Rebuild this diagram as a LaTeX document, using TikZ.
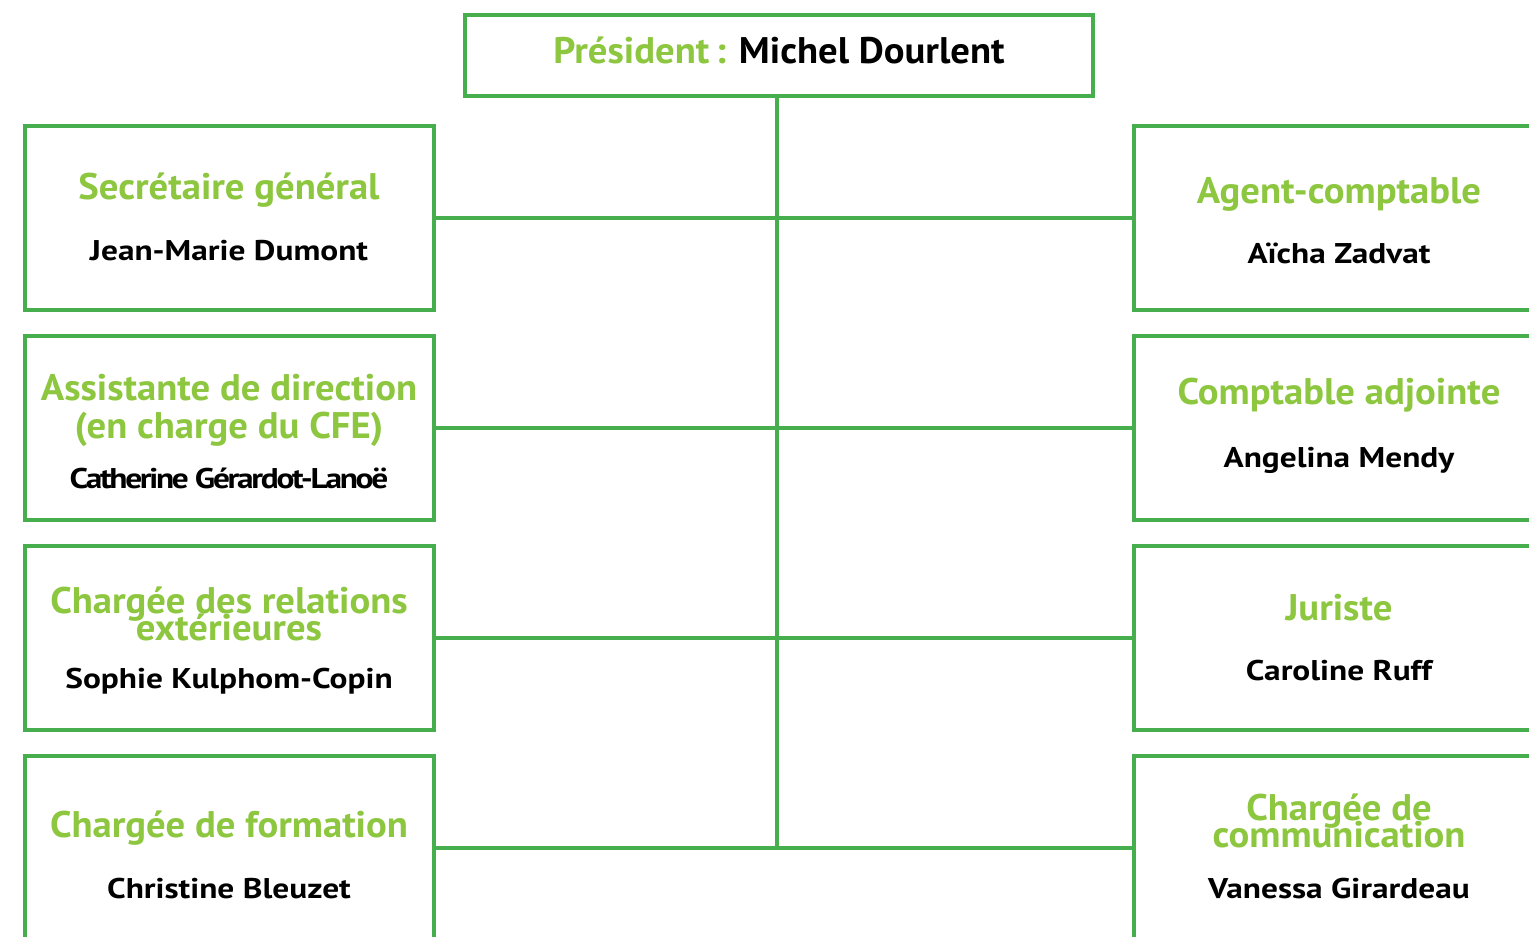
\documentclass[tikz,border=0pt]{standalone}
\usepackage{fontspec}
\setmainfont{PT Sans}[BoldFont={PT Sans Bold}]
\newfontfamily\rolefont{PT Sans}[BoldFont={PT Sans Bold},FakeStretch=1.045]
\newfontfamily\whofont{PT Sans}[BoldFont={PT Sans Bold},FakeStretch=1.17]
\newcommand\tightlead{\setlength{\lineskiplimit}{-100bp}\setlength{\lineskip}{0bp}}
\definecolor{boxgreen}{HTML}{46AE4C}
\definecolor{txtgreen}{HTML}{8DC63F}
\tikzset{
  orgbox/.style={draw=boxgreen, line width=4bp, fill=white, inner sep=0pt, rectangle},
  lbox/.style={orgbox, minimum width=409bp, minimum height=184bp},
  rbox/.style={orgbox, minimum width=426bp, minimum height=184bp},
  link/.style={draw=boxgreen, line width=4bp},
  role/.style={anchor=base, inner sep=0pt, text=txtgreen, align=center, font=\rolefont\bfseries\fontsize{37bp}{27bp}\selectfont\tightlead},
  who/.style={anchor=base, inner sep=0pt, text=black, font=\whofont\bfseries\fontsize{28.5bp}{32bp}\selectfont}
}
\begin{document}
\begin{tikzpicture}[x=1bp,y=-1bp]
\useasboundingbox (0,0) rectangle (1529,936);
\clip (0,0) rectangle (1529,936);
\fill[white] (0,0) rectangle (1529,936);
% spine
\coordinate (sp) at (777,0);
% boxes
\node[orgbox, minimum width=628bp, minimum height=81bp] (top) at (779,55.5) {};
\node[lbox] (L1) at (229.5,217.5) {};
\node[lbox] (L2) at (229.5,427.5) {};
\node[lbox] (L3) at (229.5,637.5) {};
\node[lbox] (L4) at (229.5,847.5) {};
\node[rbox] (R1) at (1347,217.5) {};
\node[rbox] (R2) at (1347,427.5) {};
\node[rbox] (R3) at (1347,637.5) {};
\node[rbox] (R4) at (1347,847.5) {};
% connectors
\draw[link] (sp |- top.south) -- (sp |- L4.east);
\draw[link] (L1.east) -- (R1.west);
\draw[link] (L2.east) -- (R2.west);
\draw[link] (L3.east) -- (R3.west);
\draw[link] (L4.east) -- (R4.west);
% texts
\node[role] (tpres) at (779,63) {Président\,: \textcolor{black}{Michel Dourlent}};
\node[role] (t1) at (229,199) {Secrétaire général};
\node[who]  (n1) at (229,260) {Jean-Marie Dumont};
\node[role, font=\rolefont\bfseries\fontsize{37bp}{38bp}\selectfont] (t2) at (229,438) {Assistante de direction\\(en charge du CFE)};
\node[who]  (n2) at (229,488) {\addfontfeature{LetterSpace=-8}Catherine Gérardot-Lanoë};
\node[role] (t3) at (229,640) {Chargée des relations\\extérieures};
\node[who]  (n3) at (229,688) {Sophie Kulphom-Copin};
\node[role] (t4) at (229,837) {Chargée de formation};
\node[who]  (n4) at (229,898) {Christine Bleuzet};
\node[role] (u1) at (1339,203) {Agent-comptable};
\node[who]  (m1) at (1339,263) {Aïcha Zadvat};
\node[role] (u2) at (1339,404) {Comptable adjointe};
\node[who]  (m2) at (1339,467) {Angelina Mendy};
\node[role] (u3) at (1339,620) {Juriste};
\node[who]  (m3) at (1339,680) {Caroline Ruff};
\node[role] (u4) at (1339,847) {Chargée de\\communication};
\node[who]  (m4) at (1339,898) {Vanessa Girardeau};
\end{tikzpicture}
\end{document}
